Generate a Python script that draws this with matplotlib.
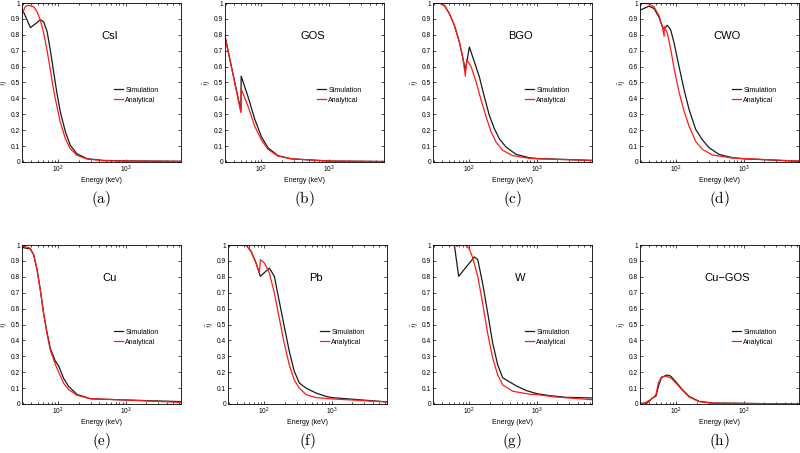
import matplotlib
matplotlib.use("Agg")
import matplotlib.pyplot as plt
import numpy as np
from matplotlib.ticker import LogLocator, NullFormatter, MultipleLocator

plt.rcParams['font.family'] = ['Liberation Sans', 'DejaVu Sans']
plt.rcParams['mathtext.fontset'] = 'cm'

# energies in keV, efficiency values
csi_sim_e = [29, 38.7, 46, 54.4, 60.8, 68.2, 76.3, 85.2, 95.5, 107, 127, 150, 188, 264, 462, 1000, 6500]
csi_sim = [0.965, 0.845, 0.87, 0.895, 0.88, 0.82, 0.70, 0.566, 0.43, 0.315, 0.19, 0.105, 0.052, 0.021, 0.01, 0.007, 0.004]
csi_ana_e = [29, 32.7, 36.6, 43.4, 48.5, 54.4, 60.8, 68.2, 76.3, 85.2, 95.5, 107, 127, 150, 188, 264, 462, 1000, 6500]
csi_ana = [0.93, 0.98, 0.985, 0.975, 0.945, 0.89, 0.81, 0.70, 0.577, 0.45, 0.346, 0.25, 0.147, 0.084, 0.042, 0.019, 0.008, 0.006, 0.004]

gos_e = [29, 49.9, 50.3, 63.6, 79.7, 100, 125, 176, 277, 1000, 6500]
gos_sim = [0.79, 0.32, 0.54, 0.41, 0.27, 0.16, 0.09, 0.04, 0.02, 0.006, 0.003]
gos_ana = [0.79, 0.31, 0.46, 0.35, 0.225, 0.14, 0.08, 0.037, 0.02, 0.006, 0.003]

bgo_sim_e = [29, 36, 42.7, 50.7, 60, 71.1, 79.6, 87.3, 100, 118.5, 140.5, 166.6, 197, 234, 277, 348, 490, 769, 1000, 6500]
bgo_sim = [1.0, 1.0, 0.985, 0.933, 0.86, 0.755, 0.66, 0.577, 0.723, 0.63, 0.535, 0.41, 0.294, 0.21, 0.147, 0.094, 0.048, 0.027, 0.022, 0.01]
bgo_ana_e = [29, 36, 42.7, 50.7, 60, 71.1, 79.6, 87.3, 91.2, 106, 126, 149, 177, 209, 248, 311, 437, 769, 1000, 6500]
bgo_ana = [1.0, 1.0, 0.985, 0.933, 0.86, 0.755, 0.66, 0.54, 0.645, 0.6, 0.503, 0.39, 0.283, 0.19, 0.126, 0.073, 0.04, 0.023, 0.02, 0.01]

cwo_sim_e = [29, 39.5, 46.8, 55.5, 62.1, 66, 73.6, 82.5, 92.4, 109.5, 130, 154, 193, 242, 304, 427, 673, 1000, 6500]
cwo_sim = [0.955, 0.98, 0.965, 0.91, 0.85, 0.84, 0.86, 0.83, 0.75, 0.60, 0.455, 0.33, 0.205, 0.14, 0.09, 0.048, 0.027, 0.02, 0.005]
cwo_ana_e = [29, 39.5, 46.8, 55.5, 62.1, 66, 66.3, 73.6, 82.5, 92.4, 109.5, 130, 154, 193, 242, 340, 673, 6500]
cwo_ana = [1.0, 0.995, 0.975, 0.92, 0.85, 0.79, 0.85, 0.81, 0.71, 0.59, 0.44, 0.32, 0.225, 0.13, 0.08, 0.044, 0.025, 0.005]

cu_e = [29, 38.4, 43, 48.2, 54, 60.5, 68, 76, 90, 101, 120, 142, 189, 299, 1000, 6500]
cu_sim = [0.985, 0.975, 0.94, 0.85, 0.72, 0.57, 0.45, 0.35, 0.27, 0.24, 0.16, 0.11, 0.06, 0.033, 0.025, 0.015]
cu_ana = [0.995, 0.98, 0.94, 0.85, 0.72, 0.57, 0.44, 0.34, 0.25, 0.20, 0.13, 0.09, 0.055, 0.033, 0.025, 0.01]

pb_sim_e = [29, 53.7, 63.5, 75.3, 87.3, 118.5, 140.5, 166, 197, 234, 277, 329, 413, 580, 815, 1000, 6500]
pb_sim = [1.0, 1.0, 0.96, 0.887, 0.803, 0.855, 0.803, 0.646, 0.488, 0.33, 0.205, 0.132, 0.1, 0.069, 0.048, 0.04, 0.013]
pb_ana_e = [29, 53.7, 63.5, 75.3, 84.4, 87.3, 100, 118.5, 140.5, 166, 197, 234, 277, 329, 413, 580, 1000, 6500]
pb_ana = [1.0, 1.0, 0.96, 0.887, 0.824, 0.908, 0.887, 0.824, 0.698, 0.54, 0.38, 0.245, 0.15, 0.1, 0.059, 0.04, 0.032, 0.013]

w_sim_e = [29, 60, 69.5, 118.5, 133, 157, 186, 221, 262, 311, 389, 489, 688, 1000, 1517, 2677, 6500]
w_sim = [1.0, 1.0, 0.803, 0.925, 0.908, 0.76, 0.576, 0.384, 0.247, 0.165, 0.14, 0.115, 0.085, 0.065, 0.053, 0.042, 0.038]
w_ana_e = [29, 64, 66, 68, 89, 100, 112, 133, 157, 186, 221, 262, 311, 440, 769, 1000, 1908, 6500]
w_ana = [1.0, 1.0, 0.99, 1.0, 1.0, 0.975, 0.92, 0.803, 0.635, 0.447, 0.29, 0.184, 0.12, 0.08, 0.062, 0.059, 0.044, 0.027]

cugos_sim_e = [29, 35, 39.5, 44.2, 50, 55, 60, 69.6, 75, 82.5, 98, 123, 154, 216, 340, 6500]
cugos_sim = [0, 0, 0.017, 0.038, 0.05, 0.12, 0.165, 0.18, 0.182, 0.175, 0.14, 0.09, 0.048, 0.017, 0.006, 0]
cugos_ana_e = [29, 35, 41.8, 46.8, 50, 54, 60, 69.6, 82.5, 98, 123, 154, 216, 340, 6500]
cugos_ana = [0, 0.01, 0.027, 0.045, 0.06, 0.13, 0.17, 0.175, 0.165, 0.133, 0.086, 0.044, 0.015, 0.005, 0]

names = ['CsI', 'GOS', 'BGO', 'CWO', 'Cu', 'Pb', 'W', 'Cu\u2212GOS']
letters = ['a', 'b', 'c', 'd', 'e', 'f', 'g', 'h']

panels = [
    (csi_sim_e, csi_sim, csi_ana_e, csi_ana),
    (gos_e, gos_sim, gos_e, gos_ana),
    (bgo_sim_e, bgo_sim, bgo_ana_e, bgo_ana),
    (cwo_sim_e, cwo_sim, cwo_ana_e, cwo_ana),
    (cu_e, cu_sim, cu_e, cu_ana),
    (pb_sim_e, pb_sim, pb_ana_e, pb_ana),
    (w_sim_e, w_sim, w_ana_e, w_ana),
    (cugos_sim_e, cugos_sim, cugos_ana_e, cugos_ana),
]

W, H = 800, 453
fig = plt.figure(figsize=(8, 4.53), dpi=100)

lefts = [22, 225, 433, 640, 22, 228, 433, 640]
tops = [3, 3, 3, 3, 245, 245, 245, 245]
aw, ah = 159, 159

for i in range(8):
    se, sv, ae, av = panels[i]
    l, t = lefts[i], tops[i]
    ax = fig.add_axes([l / W, 1 - (t + ah) / H, aw / W, ah / H])
    ax.plot(se, sv, color='#1a1a1a', lw=0.9, label='Simulation')
    ax.plot(ae, av, color='#ff1a1a', lw=0.9, label='Analytical')
    ax.set_xscale('log')
    ax.set_xlim(29, 6500)
    ax.set_ylim(0, 1)
    ax.yaxis.set_major_locator(MultipleLocator(0.1))
    ax.yaxis.set_major_formatter(plt.FuncFormatter(lambda v, p: '%g' % round(v, 1)))
    ax.xaxis.set_major_locator(LogLocator(base=10, numticks=10))
    ax.xaxis.set_minor_locator(LogLocator(base=10, subs=np.arange(2, 10), numticks=10))
    ax.xaxis.set_minor_formatter(NullFormatter())
    ax.tick_params(which='both', direction='in', top=True, right=True, labelsize=4.8, pad=1.5, width=0.5)
    ax.tick_params(which='major', length=2.5)
    ax.tick_params(which='minor', length=1.5)
    for s in ax.spines.values():
        s.set_linewidth(0.6)
    ax.set_xlabel('Energy (keV)', fontsize=5, labelpad=1)
    ax.set_ylabel(r'$\tilde{\eta}$', fontsize=6, labelpad=1)
    ax.text(0.55, 0.79, names[i], transform=ax.transAxes, ha='center', va='center', fontsize=8)
    ax.legend(loc='center left', bbox_to_anchor=(0.58, 0.42), frameon=False, fontsize=5,
              handlelength=1.3, handletextpad=0.3, labelspacing=0.45, borderpad=0, borderaxespad=0)
    fig.text((l + aw / 2) / W, 1 - (t + ah + 37) / H, r'$\mathrm{(%s)}$' % letters[i],
             ha='center', va='center', fontsize=11)

fig.savefig('out.png', dpi=100)
